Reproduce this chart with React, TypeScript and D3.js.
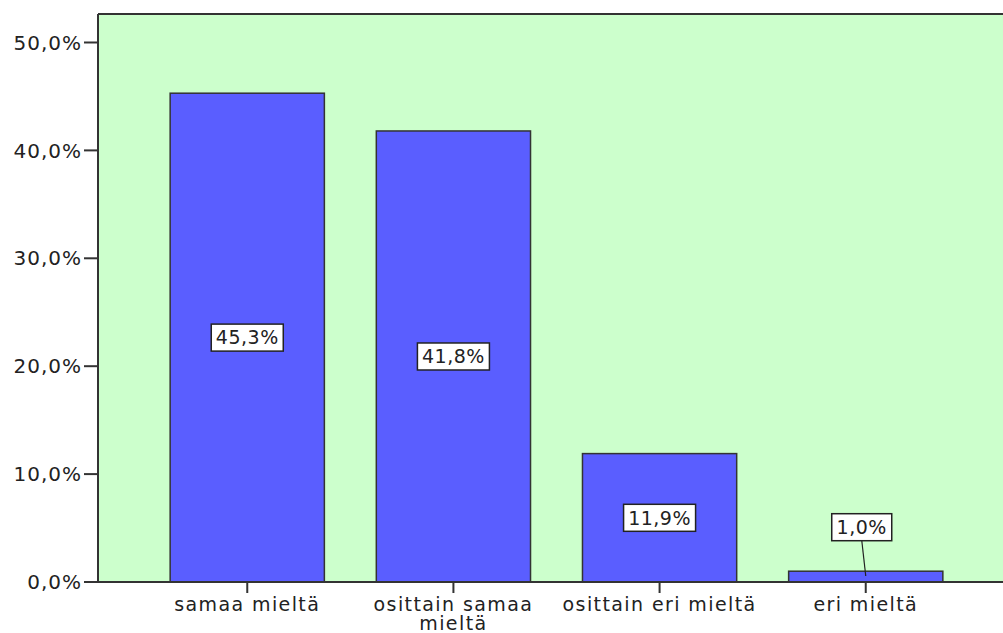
import React from "react";
import * as d3 from "d3";

const categories = ["samaa mieltä", "osittain samaa mieltä", "osittain eri mieltä", "eri mieltä"];
const tickLabels = ["samaa mieltä", "osittain samaa\nmieltä", "osittain eri mieltä", "eri mieltä"];
const values = [45.3, 41.8, 11.9, 1.0];
const yTicks = [0, 10, 20, 30, 40, 50];

const W = 1003;
const H = 633;
const FONT = "'DejaVu Sans', Verdana, sans-serif";
const fmt = (v: number) => v.toFixed(1).replace(".", ",") + "%";

export default function App() {
  const left = 98;
  const top = 14;
  const bottom = 582;
  const x = d3
    .scaleBand<string>()
    .domain(categories)
    .range([left, 1015])
    .paddingInner(0.252)
    .paddingOuter(0.35);
  const y = d3.scaleLinear().domain([0, 52.64]).range([bottom, top]);
  const bw = x.bandwidth();

  return (
    <svg
      width={W}
      height={H}
      style={{ position: "absolute", left: 0, top: 0, background: "#fff" }}
      fontFamily={FONT}
    >
      <rect x={left} y={top} width={W - left} height={bottom - top} fill="#ccffcc" />
      {categories.map((c, i) => (
        <rect
          key={c}
          x={x(c)!}
          y={y(values[i])}
          width={bw}
          height={bottom - y(values[i])}
          fill="#5a5eff"
          stroke="#333"
          strokeWidth={1.5}
        />
      ))}
      {/* frame */}
      <line x1={left} x2={W} y1={top} y2={top} stroke="#333" strokeWidth={2} />
      <line x1={left} x2={left} y1={top} y2={bottom} stroke="#333" strokeWidth={2} />
      <line x1={left} x2={W} y1={bottom} y2={bottom} stroke="#333" strokeWidth={2} />
      {/* y axis */}
      {yTicks.map((t) => (
        <g key={t}>
          <line x1={84} x2={left} y1={y(t)} y2={y(t)} stroke="#333" strokeWidth={2} />
          <text
            x={82}
            y={y(t)}
            dy="0.36em"
            textAnchor="end"
            fontSize={20}
            fill="#222"
            letterSpacing={1}
          >
            {fmt(t)}
          </text>
        </g>
      ))}
      {/* x axis */}
      {categories.map((c, i) => {
        const cx = x(c)! + bw / 2;
        const lines = tickLabels[i].split("\n");
        return (
          <g key={c}>
            <line x1={cx} x2={cx} y1={bottom} y2={bottom + 11} stroke="#333" strokeWidth={2} />
            <text x={cx} y={611} textAnchor="middle" fontSize={19} fill="#222" letterSpacing={1.4}>
              {lines.map((l, k) => (
                <tspan key={k} x={cx} dy={k === 0 ? 0 : 19}>
                  {l}
                </tspan>
              ))}
            </text>
          </g>
        );
      })}
      {/* value labels */}
      {categories.map((c, i) => {
        const cx = x(c)! + bw / 2;
        const v = values[i];
        const barH = bottom - y(v);
        const small = barH < 30;
        const lx = small ? cx - 4 : cx;
        const ly = small ? y(v) - 44 : (bottom + y(v)) / 2;
        const bwid = v >= 10 ? 72 : 60;
        return (
          <g key={c}>
            {small && (
              <line x1={lx} x2={cx} y1={ly + 13} y2={bottom - 6} stroke="#222" strokeWidth={1.2} />
            )}
            <rect
              x={lx - bwid / 2}
              y={ly - 13.5}
              width={bwid}
              height={27}
              fill="#fff"
              stroke="#222"
              strokeWidth={1.5}
            />
            <text x={lx} y={ly} dy="0.36em" textAnchor="middle" fontSize={19} fill="#222" letterSpacing={0.5}>
              {fmt(v)}
            </text>
          </g>
        );
      })}
    </svg>
  );
}
